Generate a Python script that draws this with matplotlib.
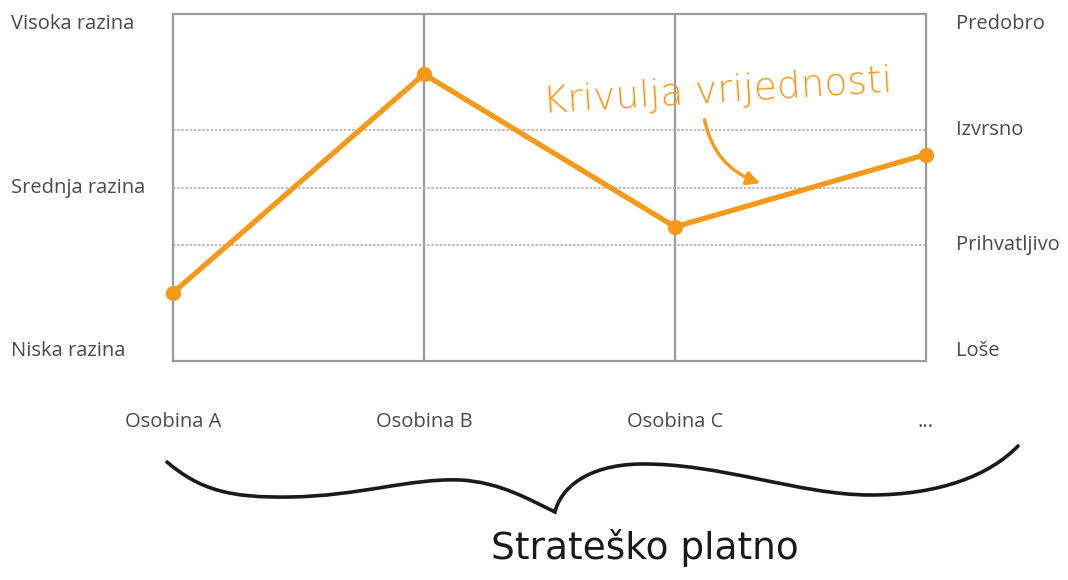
import matplotlib.pyplot as plt
from matplotlib.path import Path
from matplotlib.patches import PathPatch
import matplotlib.transforms as mtransforms

# podaci
osobine = ['Osobina A', 'Osobina B', 'Osobina C', '...']
vrijednosti = [1.18, 4.96, 2.32, 3.57]
lijeve_oznake = ['Visoka razina', 'Srednja razina', 'Niska razina']
lijeve_razine = [6, 3, 0]
desne_oznake = ['Predobro', 'Izvrsno', 'Prihvatljivo', 'Loše']
desne_razine = [6, 4, 2, 0]
isprekidane = [2, 3, 4]

narancasta = '#F39A1B'
siva = '#9a9a9a'
tekst = '#4a4a4a'
font = 'Open Sans'
vel = 14.5

fig = plt.figure(figsize=(10.68, 5.8), dpi=100)
ax = fig.add_axes([173 / 1068, 1 - 361 / 580, 753 / 1068, 347 / 580])
ax.set_xlim(0, len(osobine) - 1)
ax.set_ylim(0, 6)

for s in ax.spines.values():
    s.set_color(siva)
    s.set_linewidth(1.6)
ax.set_xticks([])
ax.set_yticks([])

# mreza
for x in range(1, len(osobine) - 1):
    ax.axvline(x, color=siva, lw=1.6, zorder=1)
for y in isprekidane:
    ax.axhline(y, color='#b0b0b0', lw=1.2, ls=(0, (1.5, 1)), zorder=1)

# krivulja vrijednosti
ax.plot(range(len(osobine)), vrijednosti, color=narancasta, lw=3.8,
        marker='o', ms=10, clip_on=False, zorder=3)

# oznake lijevo i desno
lijevo = mtransforms.blended_transform_factory(fig.transFigure, ax.transData)
for lab, y in zip(lijeve_oznake, lijeve_razine):
    va = 'top' if y == 6 else ('bottom' if y == 0 else 'center')
    ax.text(11 / 1068, y, lab, transform=lijevo, ha='left', va=va,
            fontsize=vel, color=tekst, family=font)
for lab, y in zip(desne_oznake, desne_razine):
    va = 'top' if y == 6 else ('bottom' if y == 0 else 'center')
    ax.text(956 / 1068, y, lab, transform=lijevo, ha='left', va=va,
            fontsize=vel, color=tekst, family=font)

# oznake osobina
dolje = mtransforms.blended_transform_factory(ax.transData, fig.transFigure)
for i, lab in enumerate(osobine):
    ax.text(i, 1 - 422 / 580, lab, transform=dolje, ha='center', va='center',
            fontsize=vel, color=tekst, family=font)

# natpis krivulje i strelica
fig.text(718 / 1068, 1 - 92 / 580, 'Krivulja vrijednosti', color=narancasta,
         fontsize=27, family='DejaVu Sans', fontweight='light', rotation=3.5,
         ha='center', va='center')
ax.annotate('', xy=(763 / 1068, 1 - 184 / 580), xytext=(704 / 1068, 1 - 117 / 580),
            xycoords='figure fraction', textcoords='figure fraction',
            arrowprops=dict(arrowstyle='-|>', color=narancasta, lw=2.4,
                            mutation_scale=20,
                            connectionstyle='arc3,rad=0.3'))

# viticasta zagrada
pax = fig.add_axes([0, 0, 1, 1], facecolor='none')
pax.set_xlim(0, 1068)
pax.set_ylim(580, 0)
pax.axis('off')
vrhovi = [(167, 462), (200, 490), (230, 498), (290, 497),
          (360, 496), (410, 478), (460, 480),
          (500, 482), (530, 500), (555, 512),
          (560, 490), (585, 465), (640, 464),
          (720, 463), (800, 495), (870, 495),
          (940, 495), (990, 475), (1018, 446)]
kodovi = [Path.MOVETO] + [Path.CURVE4] * (len(vrhovi) - 1)
pax.add_patch(PathPatch(Path(vrhovi, kodovi), fill=False, lw=2.6, color='#1a1a1a',
                        capstyle='round'))
pax.text(645, 548, 'Strateško platno', ha='center', va='center', fontsize=27,
         color='#1a1a1a', family='DejaVu Sans')

fig.savefig('out.png', dpi=100)
